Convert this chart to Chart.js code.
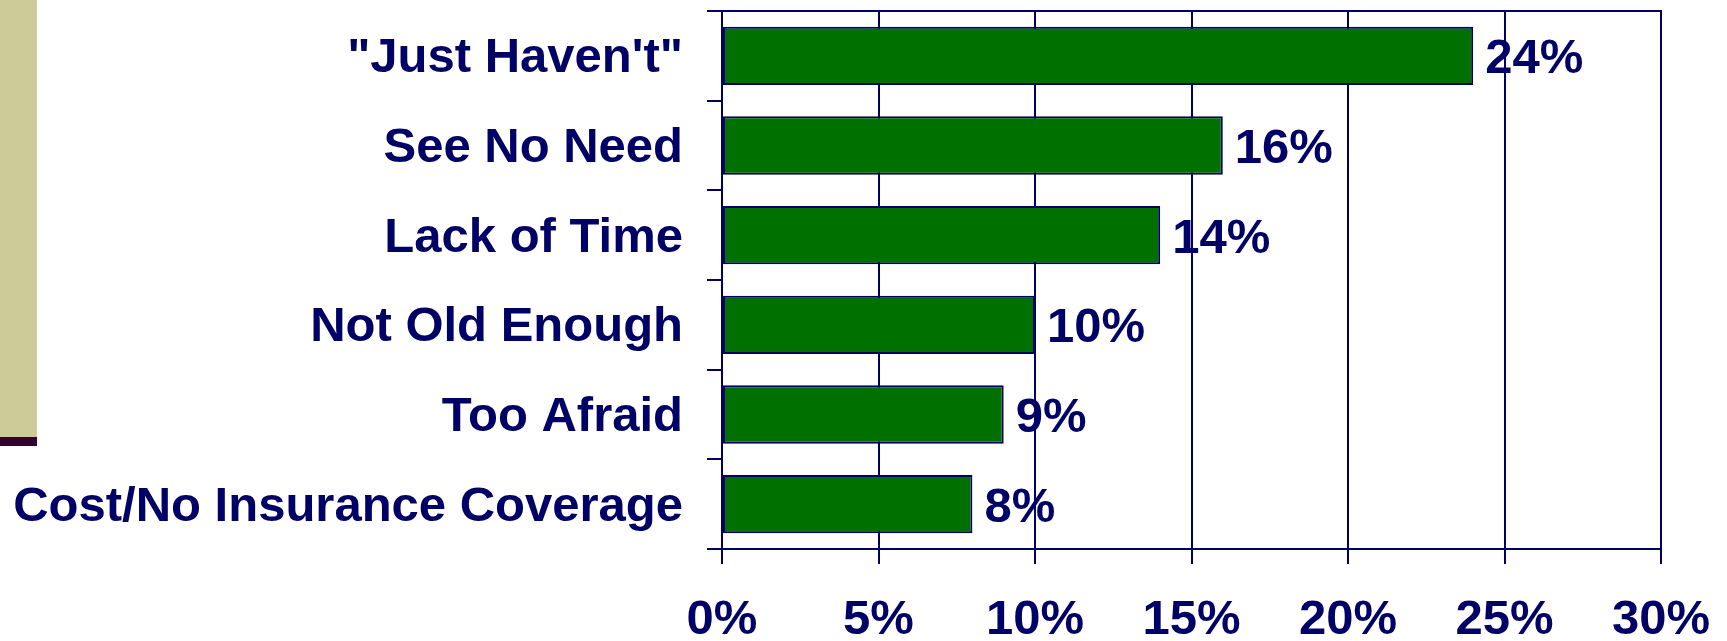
<!DOCTYPE html>
<html>
<head>
<meta charset="utf-8">
<script src="https://cdn.jsdelivr.net/npm/chart.js@4/dist/chart.umd.min.js"></script>
<style>
  html, body { margin: 0; padding: 0; background: #fff; overflow: hidden; }
  #wrap { position: relative; width: 1727px; height: 641px; }
  /* slide decoration on the left edge */
  .side-bar { position: absolute; left: 0; top: 0; width: 37px; height: 437px; background: #CCCC99; }
  .side-foot { position: absolute; left: 0; top: 437px; width: 37px; height: 9px; background: #330033; }
  canvas { position: absolute; left: 0; top: 0; }
</style>
</head>
<body>
<div id="wrap">
  <div class="side-bar"></div>
  <div class="side-foot"></div>
  <canvas id="chart" width="1727" height="641"></canvas>
</div>
<script>
const categories = [
  '"Just Haven\'t"',
  "See No Need",
  "Lack of Time",
  "Not Old Enough",
  "Too Afraid",
  "Cost/No Insurance Coverage",
];
const percentValues = [24, 16, 14, 10, 9, 8];
const xTicks = [0, 5, 10, 15, 20, 25, 30];

const NAVY = "#000066";
const FONT = { family: "Liberation Sans, Arial, sans-serif", size: 49, weight: "bold" };

// value labels to the right of each bar
const barLabels = {
  id: "barLabels",
  afterDatasetsDraw(chart) {
    const ctx = chart.ctx;
    const meta = chart.getDatasetMeta(0);
    ctx.save();
    ctx.font = `bold ${FONT.size}px ${FONT.family}`;
    ctx.fillStyle = NAVY;
    ctx.textAlign = "left";
    ctx.textBaseline = "middle";
    meta.data.forEach((bar, i) => {
      ctx.fillText(percentValues[i] + "%", bar.x + 12, bar.y + 4);
    });
    ctx.restore();
  },
};

new Chart(document.getElementById("chart"), {
  type: "bar",
  data: {
    labels: categories,
    datasets: [
      {
        data: percentValues,
        backgroundColor: "#007000",
        borderColor: NAVY,
        borderWidth: 2,
        borderSkipped: false,
        barPercentage: 0.65,
        categoryPercentage: 1,
      },
    ],
  },
  options: {
    indexAxis: "y",
    responsive: false,
    animation: false,
    devicePixelRatio: 1,
    layout: { padding: { top: 0, right: 66, bottom: 0, left: 0 } },
    plugins: { legend: { display: false }, tooltip: { enabled: false } },
    scales: {
      x: {
        min: 0,
        max: 30,
        afterBuildTicks: (axis) => { axis.ticks = xTicks.map((v) => ({ value: v })); },
        afterFit: (axis) => {
          axis.height = 92;
          axis.paddingLeft = 0;
          axis.paddingRight = 0;
        },
        grid: { color: NAVY, lineWidth: 2, tickLength: 15 },
        border: { display: true, color: NAVY, width: 2 },
        ticks: { color: NAVY, font: FONT, padding: 27, callback: (v) => v + "%", maxRotation: 0 },
      },
      x2: {
        position: "top",
        min: 0,
        max: 30,
        afterFit: (axis) => {
          axis.height = 11;
          axis.paddingLeft = 0;
          axis.paddingRight = 0;
        },
        grid: { display: false },
        border: { display: true, color: NAVY, width: 2 },
        ticks: { display: false },
      },
      y: {
        offset: true,
        afterFit: (axis) => {
          axis.width = 722;
          axis.paddingTop = 0;
          axis.paddingBottom = 0;
        },
        grid: { offset: true, drawOnChartArea: false, color: NAVY, lineWidth: 2, tickLength: 15 },
        border: { display: true, color: NAVY, width: 2 },
        ticks: { color: NAVY, font: FONT, padding: 24, labelOffset: 3, autoSkip: false },
      },
    },
  },
  plugins: [barLabels],
});
</script>
</body>
</html>
